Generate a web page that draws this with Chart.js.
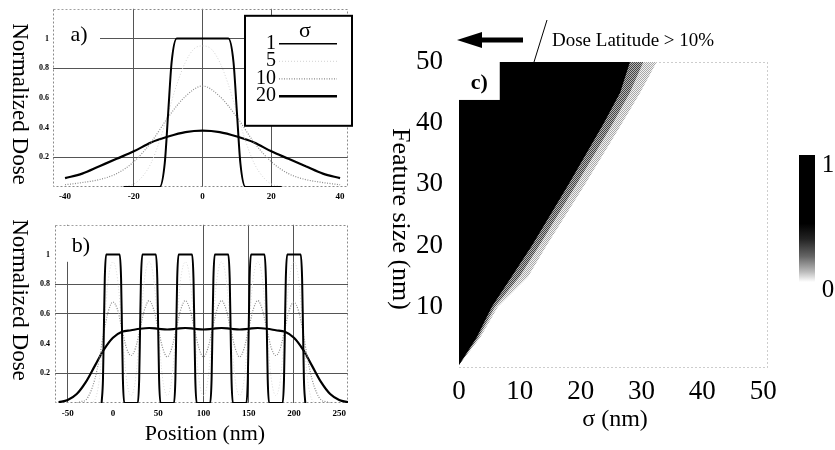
<!DOCTYPE html>
<html>
<head>
<meta charset="utf-8">
<title>Dose profiles and dose latitude</title>
<script src="https://cdn.jsdelivr.net/npm/chart.js@4.4.1/dist/chart.umd.min.js"></script>
<style>
  html, body { margin: 0; padding: 0; background: #fff; }
  body { width: 835px; height: 450px; position: relative; overflow: hidden;
         font-family: 'Liberation Serif', 'DejaVu Serif', serif; color: #000; }
  .panel { position: absolute; }
  .vtitle { position: absolute; writing-mode: vertical-rl; white-space: nowrap;
            line-height: 1; transform: translate(-50%, -50%); }
  .htitle { position: absolute; white-space: nowrap; line-height: 1;
            transform: translate(-50%, -50%); }
  #colorbar { position: absolute; left: 799px; top: 155px; width: 16px; height: 127px;
              background: linear-gradient(to bottom, #000 0%, #000 54%, #222 66%, #666 80%, #bbb 92%, #fff 100%); }
</style>
</head>
<body>

<div class="panel" style="left:0;top:0;width:360px;height:205px"><canvas id="chartA"></canvas></div>
<div class="panel" style="left:0;top:215px;width:360px;height:235px"><canvas id="chartB"></canvas></div>
<div class="panel" style="left:380px;top:0;width:455px;height:450px"><canvas id="chartC"></canvas></div>

<div class="vtitle" style="left:20px;top:104px;font-size:23px">Normalized Dose</div>
<div class="vtitle" style="left:20px;top:300px;font-size:23px">Normalized Dose</div>
<div class="htitle" style="left:205px;top:433px;font-size:22px">Position (nm)</div>
<div class="vtitle" style="left:401px;top:219px;font-size:26px">Feature size (nm)</div>
<div class="htitle" style="left:615px;top:418px;font-size:24px">σ (nm)</div>
<div id="colorbar"></div>
<div class="htitle" style="left:828px;top:163px;font-size:25px">1</div>
<div class="htitle" style="left:828px;top:288px;font-size:25px">0</div>

<script>
// ---- a) single 20 nm line, dose vs position (nm)
const aPosSigma1 = [-23, -12.5, -11, -10, -9, -7.5, 7.5, 9, 10, 11, 12.5, 23];
const aDoseSigma1 = [0, 0, 0.16, 0.5, 0.84, 1, 1, 0.84, 0.5, 0.16, 0, 0];
const aPosSigma5 = [-25, -20, -17.5, -15, -12.5, -10, -7.5, -5, -2.5, 0, 2.5, 5, 7.5, 10, 12.5, 15, 17.5, 20, 25];
const aDoseSigma5 = [0, 0.02, 0.07, 0.16, 0.31, 0.5, 0.69, 0.84, 0.93, 0.95, 0.93, 0.84, 0.69, 0.5, 0.31, 0.16, 0.07, 0.02, 0];
const aPos = [-40, -35, -30, -25, -20, -15, -10, -5, 0, 5, 10, 15, 20, 25, 30, 35, 40];
const aDoseSigma10 = [0.015, 0.03, 0.05, 0.09, 0.17, 0.3, 0.47, 0.61, 0.68, 0.61, 0.47, 0.3, 0.17, 0.09, 0.05, 0.03, 0.015];
const aDoseSigma20 = [0.06, 0.09, 0.14, 0.19, 0.24, 0.3, 0.34, 0.37, 0.38, 0.37, 0.34, 0.3, 0.24, 0.19, 0.14, 0.09, 0.06];
const aTicksX = [-40, -20, 0, 20, 40];
const aGridX = [-20, 0, 20];
const aGridY = [0.2, 0.8, 1];

// ---- b) six 20 nm lines on a 40 nm pitch
const bPosSigma1 = [
  -12.5, -11, -10, -9, -7.5, 7.5, 9, 10, 11, 12.5,
  27.5, 29, 30, 31, 32.5, 47.5, 49, 50, 51, 52.5,
  67.5, 69, 70, 71, 72.5, 87.5, 89, 90, 91, 92.5,
  107.5, 109, 110, 111, 112.5, 127.5, 129, 130, 131, 132.5,
  147.5, 149, 150, 151, 152.5, 167.5, 169, 170, 171, 172.5,
  187.5, 189, 190, 191, 192.5, 207.5, 209, 210, 211, 212.5
];
const bDoseSigma1 = [
  0, 0.16, 0.5, 0.84, 1, 1, 0.84, 0.5, 0.16, 0,
  0, 0.16, 0.5, 0.84, 1, 1, 0.84, 0.5, 0.16, 0,
  0, 0.16, 0.5, 0.84, 1, 1, 0.84, 0.5, 0.16, 0,
  0, 0.16, 0.5, 0.84, 1, 1, 0.84, 0.5, 0.16, 0,
  0, 0.16, 0.5, 0.84, 1, 1, 0.84, 0.5, 0.16, 0,
  0, 0.16, 0.5, 0.84, 1, 1, 0.84, 0.5, 0.16, 0
];
const bPosSigma5 = [-25, -20, -15, -10, -5, 0, 5, 10, 15, 20, 25, 30, 35, 40, 45, 50, 55, 60, 65, 70,
  75, 80, 85, 90, 95, 100, 105, 110, 115, 120, 125, 130, 135, 140, 145, 150, 155, 160, 165, 170,
  175, 180, 185, 190, 195, 200, 205, 210, 215, 220, 225];
const bDoseSigma5 = [0, 0.02, 0.16, 0.5, 0.84, 0.95, 0.84, 0.5, 0.16, 0.05, 0.16, 0.5, 0.84, 0.95, 0.84, 0.5, 0.16, 0.05, 0.16, 0.5,
  0.84, 0.95, 0.84, 0.5, 0.16, 0.05, 0.16, 0.5, 0.84, 0.95, 0.84, 0.5, 0.16, 0.05, 0.16, 0.5, 0.84, 0.95, 0.84, 0.5,
  0.16, 0.05, 0.16, 0.5, 0.84, 0.95, 0.84, 0.5, 0.16, 0.02, 0];
const bPosSigma10 = [-40, -35, -30, -25, -20, -15, -10, -5, 0, 5, 10, 15, 20, 25, 30, 35, 40, 45, 50, 55,
  60, 65, 70, 75, 80, 85, 90, 95, 100, 105, 110, 115, 120, 125, 130, 135, 140, 145, 150, 155,
  160, 165, 170, 175, 180, 185, 190, 195, 200, 205, 210, 215, 220, 225, 230, 235, 240];
const bDoseSigma10 = [0, 0.01, 0.02, 0.07, 0.16, 0.3, 0.48, 0.62, 0.68, 0.63, 0.5, 0.37, 0.32, 0.37, 0.5, 0.63, 0.69, 0.63, 0.5, 0.37,
  0.31, 0.37, 0.5, 0.63, 0.69, 0.63, 0.5, 0.37, 0.31, 0.37, 0.5, 0.63, 0.69, 0.63, 0.5, 0.37, 0.31, 0.37, 0.5, 0.63,
  0.69, 0.63, 0.5, 0.37, 0.32, 0.37, 0.5, 0.63, 0.68, 0.62, 0.48, 0.3, 0.16, 0.07, 0.02, 0.01, 0];
const bPosSigma20 = [-60, -50, -40, -30, -20, -10, 0, 10, 20, 30, 40, 50, 60, 70, 80, 90, 100,
  110, 120, 130, 140, 150, 160, 170, 180, 190, 200, 210, 220, 230, 240, 250, 260];
const bDoseSigma20 = [0.005, 0.02, 0.06, 0.14, 0.25, 0.36, 0.44, 0.48, 0.49, 0.5, 0.505, 0.5, 0.495, 0.5, 0.505, 0.5, 0.495,
  0.5, 0.505, 0.5, 0.495, 0.5, 0.505, 0.5, 0.49, 0.48, 0.44, 0.36, 0.25, 0.14, 0.06, 0.02, 0.005];
const bTicksX = [-50, 0, 50, 100, 150, 200, 250];
const bGridX = [-50, 100, 150, 200];
const bGridY = [0.2, 0.6, 0.8];

const doseTicksY = [0.2, 0.4, 0.6, 0.8, 1];
const sigmaLabels = ['1', '5', '10', '20'];

// ---- c) dose latitude map: sigma where the map turns from black to white, per feature size
const featureSize = [0.5, 5, 10, 15, 20, 30, 40, 45, 50];
const sigmaBlackEdge = [0, 2.9, 5.4, 8.7, 12, 18, 23.8, 26.5, 28.1];
const sigmaMidEdge = [0, 3.2, 5.9, 10, 13.2, 19.3, 25.3, 28.1, 30.3];
const sigmaGrayEdge = [0, 3.5, 6.4, 11.4, 14.4, 20.7, 26.8, 29.8, 32.5];
const cTicksX = [0, 10, 20, 30, 40, 50];
const cTicksY = [10, 20, 30, 40, 50];

const SERIF = "'Liberation Serif', 'DejaVu Serif', serif";

function pts(xs, ys) {
    return xs.map((x, i) => ({ x: x, y: ys[i] }));
}

function curve(label, xs, ys, color, width, dash, legendWidth) {
    return {
        label: label,
        data: pts(xs, ys),
        showLine: true,
        borderColor: color,
        borderWidth: width,
        borderDash: dash || [],
        legendWidth: legendWidth || width,
        pointRadius: 0,
        cubicInterpolationMode: 'monotone',
        fill: false
    };
}

// dashed box round the plot area
const framePlugin = {
    id: 'frame',
    beforeDatasetsDraw(chart, args, opts) {
        const { ctx, chartArea: a } = chart;
        ctx.save();
        ctx.strokeStyle = opts.color || '#888';
        ctx.lineWidth = 1;
        ctx.setLineDash(opts.dash || [2, 2]);
        ctx.strokeRect(Math.round(a.left) + 0.5, Math.round(a.top) + 0.5, Math.round(a.width) - 1, Math.round(a.height) - 1);
        ctx.restore();
    }
};

// panel letter on a white patch in the upper left corner
const panelLetter = {
    id: 'panelLetter',
    afterDatasetsDraw(chart, args, opts) {
        const { ctx, chartArea: a } = chart;
        ctx.save();
        ctx.fillStyle = '#fff';
        ctx.fillRect(a.left + 1, a.top + 1, opts.w, opts.h);
        ctx.fillStyle = '#000';
        ctx.font = '22px ' + SERIF;
        ctx.textAlign = 'center';
        ctx.textBaseline = 'middle';
        ctx.fillText(opts.text, a.left + 26, a.top + opts.h * 0.6);
        ctx.restore();
    }
};

// boxed sigma legend of panel a
const sigmaLegend = {
    id: 'sigmaLegend',
    afterDatasetsDraw(chart) {
        const { ctx, chartArea: a } = chart;
        const left = a.right - 103, top = a.top + 7, w = 107, h = 110;
        ctx.save();
        ctx.fillStyle = '#fff';
        ctx.fillRect(left, top, w, h);
        ctx.lineWidth = 2;
        ctx.strokeStyle = '#000';
        ctx.strokeRect(left, top, w, h);
        ctx.fillStyle = '#000';
        ctx.font = '22px ' + SERIF;
        ctx.textAlign = 'center';
        ctx.textBaseline = 'alphabetic';
        ctx.fillText('σ', left + 60, top + 21);
        chart.data.datasets.forEach((ds, i) => {
            const y = top + 28 + i * 17.5;
            ctx.font = '20px ' + SERIF;
            ctx.textAlign = 'right';
            ctx.fillStyle = '#000';
            ctx.fillText(ds.label, left + 31, y + 5);
            ctx.beginPath();
            ctx.setLineDash(ds.borderDash);
            ctx.lineWidth = ds.legendWidth;
            ctx.strokeStyle = ds.borderColor;
            ctx.moveTo(left + 34, y);
            ctx.lineTo(left + 92, y);
            ctx.stroke();
            ctx.setLineDash([]);
        });
        ctx.restore();
    }
};

function doseOptions(xMin, xMax, ticksX, gridX, gridY, area) {
    return {
        responsive: true,
        maintainAspectRatio: false,
        animation: false,
        events: [],
        layout: { padding: { top: area.top, right: area.right, left: 0, bottom: 0 } },
        scales: {
            x: {
                type: 'linear',
                min: xMin,
                max: xMax,
                afterBuildTicks: s => { s.ticks = ticksX.map(v => ({ value: v })); },
                afterFit: s => { s.height = area.xHeight; },
                border: { display: false },
                grid: {
                    drawTicks: false,
                    color: c => gridX.includes(c.tick.value) ? '#555' : 'rgba(0,0,0,0)',
                    lineWidth: 1
                },
                ticks: {
                    padding: area.xPad,
                    color: '#000',
                    font: { family: SERIF, size: 9, weight: 'bold' },
                    callback: v => String(v)
                }
            },
            y: {
                type: 'linear',
                min: 0,
                max: 1.2,
                afterBuildTicks: s => { s.ticks = doseTicksY.map(v => ({ value: v })); },
                afterFit: s => { s.width = area.left; },
                border: { display: false },
                grid: {
                    drawTicks: false,
                    color: c => gridY.includes(c.tick.value) ? '#555' : 'rgba(0,0,0,0)',
                    lineWidth: 1
                },
                ticks: {
                    padding: area.yPad,
                    color: '#000',
                    font: { family: SERIF, size: 8, weight: 'bold' },
                    callback: v => String(v)
                }
            }
        },
        plugins: {
            legend: { display: false },
            tooltip: { enabled: false },
            frame: { color: '#8a8a8a', dash: [2, 2] }
        }
    };
}

// Panel a
const optA = doseOptions(-43.5, 42.3, aTicksX, aGridX, aGridY,
    { top: 5, right: 12, left: 53, xHeight: 18, xPad: 4, yPad: 4 });
optA.plugins.panelLetter = { text: 'a)', w: 46, h: 44 };
const chartA = new Chart(document.getElementById('chartA').getContext('2d'), {
    type: 'scatter',
    data: {
        datasets: [
            curve(sigmaLabels[0], aPosSigma1, aDoseSigma1, '#000', 2, [], 1.6),
            curve(sigmaLabels[1], aPosSigma5, aDoseSigma5, '#d2d2d2', 1, [1, 2]),
            curve(sigmaLabels[2], aPos, aDoseSigma10, '#8c8c8c', 1.2, [1, 1.5]),
            curve(sigmaLabels[3], aPos, aDoseSigma20, '#000', 2.2, [], 2.6)
        ]
    },
    options: optA,
    plugins: [framePlugin, panelLetter, sigmaLegend]
});

// Panel b
const optB = doseOptions(-64, 259.7, bTicksX, bGridX, bGridY,
    { top: 7, right: 12, left: 55, xHeight: 47, xPad: 5, yPad: 5 });
optB.plugins.panelLetter = { text: 'b)', w: 45, h: 36 };
const chartB = new Chart(document.getElementById('chartB').getContext('2d'), {
    type: 'scatter',
    data: {
        datasets: [
            curve(sigmaLabels[0], bPosSigma1, bDoseSigma1, '#000', 2),
            curve(sigmaLabels[1], bPosSigma5, bDoseSigma5, '#dadada', 1, [1, 2]),
            curve(sigmaLabels[2], bPosSigma10, bDoseSigma10, '#8c8c8c', 1.2, [1, 1.5]),
            curve(sigmaLabels[3], bPosSigma20, bDoseSigma20, '#000', 2.2)
        ]
    },
    options: optB,
    plugins: [framePlugin, panelLetter]
});

// Panel c
function dither(dark, light) {
    const tile = document.createElement('canvas');
    tile.width = 2;
    tile.height = 2;
    const g = tile.getContext('2d');
    g.fillStyle = light;
    g.fillRect(0, 0, 2, 2);
    g.fillStyle = dark;
    g.fillRect(0, 0, 1, 1);
    g.fillRect(1, 1, 1, 1);
    return g.createPattern(tile, 'repeat');
}

function region(edge, color) {
    return {
        data: pts(edge, featureSize),
        showLine: true,
        borderWidth: 0,
        borderColor: 'rgba(0,0,0,0)',
        pointRadius: 0,
        backgroundColor: color,
        fill: { value: 50 }
    };
}

const cNotes = {
    id: 'cNotes',
    afterDatasetsDraw(chart) {
        const { ctx, chartArea: a, scales: { x, y } } = chart;
        ctx.save();
        // white corner with the panel letter
        const bx = x.getPixelForValue(6.7), by = y.getPixelForValue(43.8);
        ctx.fillStyle = '#fff';
        ctx.fillRect(a.left - 1, a.top, bx - a.left + 1, by - a.top);
        ctx.fillStyle = '#000';
        ctx.font = 'bold 22px ' + SERIF;
        ctx.textAlign = 'center';
        ctx.textBaseline = 'middle';
        ctx.fillText('c)', (a.left + bx) / 2, (a.top + by) / 2 + 2);

        // arrow and pointer line above the map
        const ay = a.top - 22;
        ctx.beginPath();
        ctx.moveTo(a.left - 2, ay);
        ctx.lineTo(a.left + 23, ay - 8);
        ctx.lineTo(a.left + 23, ay + 8);
        ctx.closePath();
        ctx.fill();
        ctx.fillRect(a.left + 20, ay - 2.5, 44, 5);
        ctx.beginPath();
        ctx.lineWidth = 1;
        ctx.strokeStyle = '#000';
        ctx.moveTo(a.left + 88, a.top - 42);
        ctx.lineTo(a.left + 75, a.top);
        ctx.stroke();

        ctx.font = '19px ' + SERIF;
        ctx.textAlign = 'left';
        ctx.textBaseline = 'alphabetic';
        ctx.fillText('Dose Latitude > 10%', a.left + 93, a.top - 16);
        ctx.restore();
    }
};

const chartC = new Chart(document.getElementById('chartC').getContext('2d'), {
    type: 'scatter',
    data: {
        datasets: [
            region(sigmaBlackEdge, '#000'),
            region(sigmaMidEdge, dither('#444', '#b4b4b4')),
            region(sigmaGrayEdge, dither('#a8a8a8', '#f2f2f2'))
        ]
    },
    options: {
        responsive: true,
        maintainAspectRatio: false,
        animation: false,
        events: [],
        layout: { padding: { top: 62, right: 67, left: 0, bottom: 0 } },
        scales: {
            x: {
                type: 'linear',
                min: 0,
                max: 50.8,
                afterBuildTicks: s => { s.ticks = cTicksX.map(v => ({ value: v })); },
                afterFit: s => { s.height = 82; },
                border: { display: false },
                grid: { display: false, drawTicks: false },
                ticks: { padding: 8, color: '#000', font: { family: SERIF, size: 27 } }
            },
            y: {
                type: 'linear',
                min: 0,
                max: 50,
                afterBuildTicks: s => { s.ticks = cTicksY.map(v => ({ value: v })); },
                afterFit: s => { s.width = 79; },
                border: { display: false },
                grid: { display: false, drawTicks: false },
                ticks: { padding: 16, color: '#000', font: { family: SERIF, size: 27 } }
            }
        },
        plugins: {
            legend: { display: false },
            tooltip: { enabled: false },
            frame: { color: '#9a9a9a', dash: [1, 3] }
        }
    },
    plugins: [framePlugin, cNotes]
});
</script>
</body>
</html>
